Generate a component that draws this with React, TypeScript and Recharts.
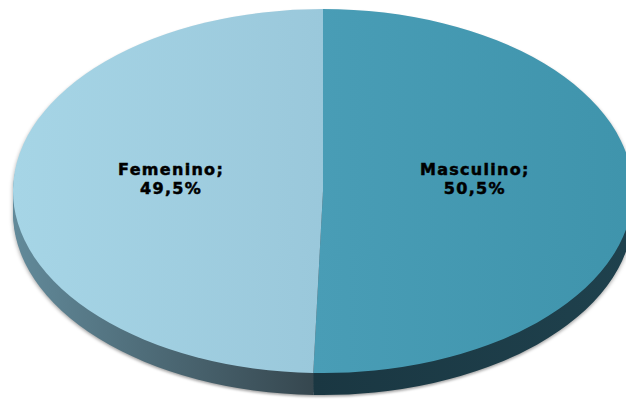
import { Cell, Pie, PieChart } from 'recharts';

const categories = ['Masculino', 'Femenino'];
const shares = [50.5, 49.5];
const shareLabels = ['50,5%', '49,5%'];

const topColors = ['url(#topMasc)', 'url(#topFem)'];
const sideColors = ['url(#sideMasc)', 'url(#sideFem)'];

// the pie is drawn as a circle and squashed into an ellipse with CSS;
// labels come from a second, unsquashed pie laid on top
const RX = 310;
const RY = 182;
const S = RY / RX;
const CX = 323;
const CY_PX = 191;
const CY = CY_PX / S;
const DEPTH = 22 / S;
const H = 400 / S;
const layers = [1, 0.875, 0.75, 0.625, 0.5, 0.375, 0.25, 0.125];

const data = categories.map((name, i) => ({ name, value: shares[i], label: shareLabels[i] }));

const RAD = Math.PI / 180;

function renderLabel(props: any) {
  const { cx, cy, midAngle, outerRadius, index } = props;
  const x = cx + outerRadius * 0.49 * Math.cos(-midAngle * RAD);
  return (
    <text
      x={x}
      y={cy}
      textAnchor="middle"
      fontFamily="'DejaVu Sans', Verdana, sans-serif"
      fontWeight="bold"
      fontSize={16}
      letterSpacing={1.3}
      fill="#000"
      stroke="#000"
      strokeWidth={0.5}
    >
      <tspan x={x} y={cy - 16.5}>{data[index].name};</tspan>
      <tspan x={x} y={cy + 2.5}>{data[index].label}</tspan>
    </text>
  );
}

export default function App() {
  return (
    <div
      style={{
        position: 'absolute',
        left: 0,
        top: 0,
        width: 626,
        height: 400,
        overflow: 'hidden',
        background: '#fff',
      }}
    >
      <div
        style={{
          transform: `scaleY(${S})`,
          transformOrigin: '0 0',
          filter: 'drop-shadow(0px 3px 2px rgba(0,0,0,0.35))',
        }}
      >
        <PieChart width={626} height={H} margin={{ top: 0, right: 0, bottom: 0, left: 0 }}>
          <defs>
            <linearGradient id="topFem" gradientUnits="userSpaceOnUse" x1={13} y1={0} x2={323} y2={0}>
              <stop offset="0%" stopColor="#a6d5e6" />
              <stop offset="100%" stopColor="#9ac8db" />
            </linearGradient>
            <linearGradient id="topMasc" gradientUnits="userSpaceOnUse" x1={313} y1={0} x2={633} y2={0}>
              <stop offset="0%" stopColor="#499db6" />
              <stop offset="100%" stopColor="#3f94ac" />
            </linearGradient>
            <linearGradient id="sideFem" gradientUnits="userSpaceOnUse" x1={13} y1={0} x2={313} y2={0}>
              <stop offset="0%" stopColor="#628a9a" />
              <stop offset="100%" stopColor="#36474f" />
            </linearGradient>
            <linearGradient id="sideMasc" gradientUnits="userSpaceOnUse" x1={313} y1={0} x2={633} y2={0}>
              <stop offset="0%" stopColor="#1a3742" />
              <stop offset="100%" stopColor="#1f414d" />
            </linearGradient>
          </defs>
          {layers.map((f) => (
            <Pie
              key={f}
              data={data}
              dataKey="value"
              nameKey="name"
              cx={CX}
              cy={CY + DEPTH * f}
              outerRadius={RX}
              startAngle={90}
              endAngle={-270}
              stroke="none"
              isAnimationActive={false}
            >
              {data.map((d, i) => (
                <Cell key={d.name} fill={sideColors[i]} />
              ))}
            </Pie>
          ))}
          <Pie
            data={data}
            dataKey="value"
            nameKey="name"
            cx={CX}
            cy={CY}
            outerRadius={RX}
            startAngle={90}
            endAngle={-270}
            stroke="none"
            isAnimationActive={false}
          >
            {data.map((d, i) => (
              <Cell key={d.name} fill={topColors[i]} />
            ))}
          </Pie>
        </PieChart>
      </div>
      <div style={{ position: 'absolute', left: 0, top: 0 }}>
        <PieChart width={626} height={400} margin={{ top: 0, right: 0, bottom: 0, left: 0 }}>
          <Pie
            data={data}
            dataKey="value"
            nameKey="name"
            cx={CX}
            cy={CY_PX}
            outerRadius={RX}
            startAngle={90}
            endAngle={-270}
            fill="none"
            stroke="none"
            label={renderLabel}
            labelLine={false}
            isAnimationActive={false}
          />
        </PieChart>
      </div>
    </div>
  );
}
